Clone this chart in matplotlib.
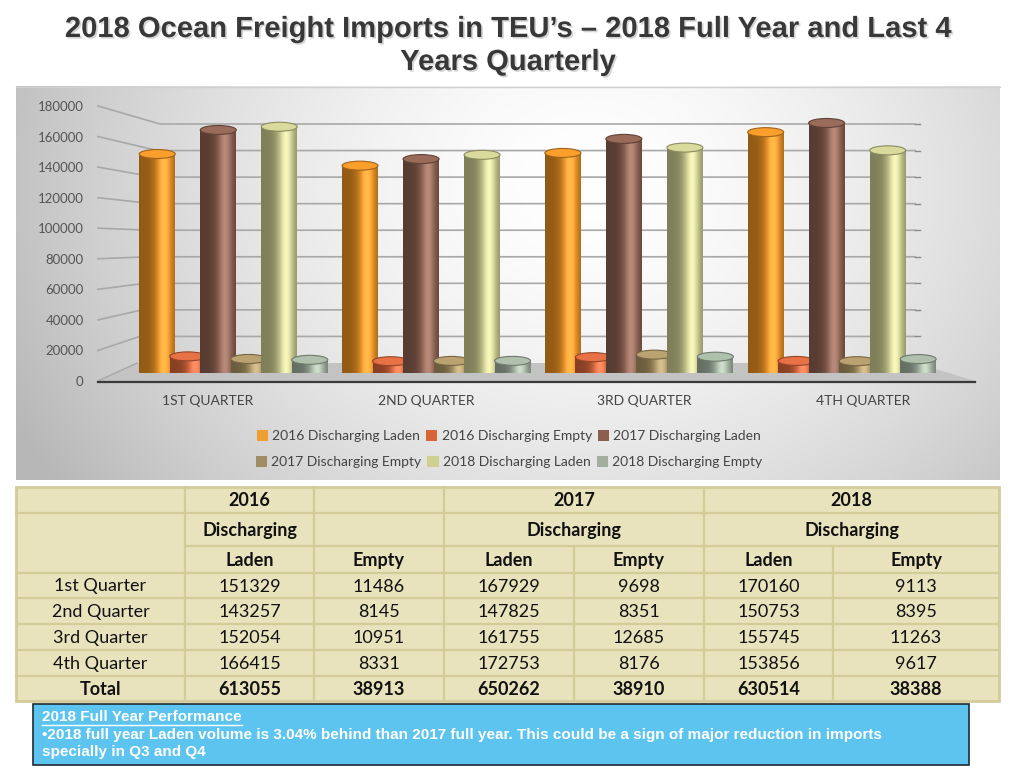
import numpy as np
import matplotlib
matplotlib.use("Agg")
import matplotlib.pyplot as plt
import matplotlib.patheffects as pe
from matplotlib.patches import Rectangle, Ellipse, Polygon, Patch

# ---- data ----
quarters = ["1ST QUARTER", "2ND QUARTER", "3RD QUARTER", "4TH QUARTER"]
row_labels = ["1st Quarter", "2nd Quarter", "3rd Quarter", "4th Quarter"]
series_names = ["2016 Discharging Laden", "2016 Discharging Empty",
                "2017 Discharging Laden", "2017 Discharging Empty",
                "2018 Discharging Laden", "2018 Discharging Empty"]
laden_2016 = [151329, 143257, 152054, 166415]
empty_2016 = [11486, 8145, 10951, 8331]
laden_2017 = [167929, 147825, 161755, 172753]
empty_2017 = [9698, 8351, 12685, 8176]
laden_2018 = [170160, 150753, 155745, 153856]
empty_2018 = [9113, 8395, 11263, 9617]
totals = [613055, 38913, 650262, 38910, 630514, 38388]
yticks = list(range(0, 180001, 20000))

series = [laden_2016, empty_2016, laden_2017, empty_2017, laden_2018, empty_2018]
bar_colors = ["#E58E22", "#D4643A", "#8A5E4E", "#A99263", "#C6C68C", "#9EAE9C"]
legend_colors = ["#EE9E32", "#D8643A", "#8C5E50", "#A08C64", "#CDD08E", "#A4AE9E"]

W, H = 1024, 768
fig = plt.figure(figsize=(10.24, 7.68), dpi=100)
fig.patch.set_facecolor("white")


def frame(x0, y_top, x1, y_bot):
    # pixel box (top-left origin) -> figure fraction rect
    return [x0 / W, (H - y_bot) / H, (x1 - x0) / W, (y_bot - y_top) / H]


canvas = fig.add_axes([0, 0, 1, 1], zorder=0)
canvas.set_xlim(0, W)
canvas.set_ylim(H, 0)
canvas.axis("off")

# title
title_fx = [pe.SimplePatchShadow(offset=(1.2, -1.2), shadow_rgbFace="#a0a0a0", alpha=0.45), pe.Normal()]
for txt, yy in [("2018 Ocean Freight Imports in TEU\u2019s \u2013 2018 Full Year and Last 4", 29),
                ("Years Quarterly", 62)]:
    canvas.text(508, yy, txt, ha="center", va="center", fontsize=21, fontweight="bold",
                family="Liberation Sans", color="#383838", path_effects=title_fx)

# chart panel background (soft gray gradient)
gx, gy = np.meshgrid(np.linspace(0, 1, 300), np.linspace(0, 1, 120))
r = np.sqrt(((gx - 0.58) / 0.62) ** 2 + ((gy - 0.25) / 1.3) ** 2)
val = np.clip(1.0 - 0.26 * r ** 1.6, 0.72, 1.0)
canvas.imshow(np.dstack([val, val, val]), extent=(16, 1000, 480, 86), aspect="auto",
              interpolation="bilinear", zorder=0.5)
canvas.plot([16, 1000], [86.5, 86.5], color="#d0d0d0", lw=1, zorder=0.6)

# front axis (tick labels), back wall axis and bar axis
ax_front = fig.add_axes(frame(92, 106, 98, 381), zorder=1)
ax_front.set_ylim(0, 180000)
ax_front.set_yticks(yticks)
ax_front.set_yticklabels([str(v) for v in yticks], fontsize=9.5, color="#555555", family="Lato")
ax_front.tick_params(axis="y", length=0, pad=6)
ax_front.set_xticks([])
for s in ax_front.spines.values():
    s.set_visible(False)
ax_front.patch.set_alpha(0)

ax_back = fig.add_axes(frame(137, 124, 915, 363), zorder=1)
ax_back.set_ylim(0, 180000)
ax_back.axis("off")

inv = canvas.transData.inverted()


def to_canvas(ax, x, y):
    return inv.transform(ax.transData.transform((x, y)))


# floor
floor = Polygon([(98, 381), (975, 381), (915, 363), (137, 363)], closed=True,
                facecolor="#c3c3c3", edgecolor="none", zorder=1)
canvas.add_patch(floor)
canvas.plot([98, 975], [381.5, 381.5], color="#3a3a3a", lw=1.6, zorder=1.2)

# gridlines: slant from front label to back wall, then across the wall
for v in yticks[1:]:
    _, yf = to_canvas(ax_front, 0, v)
    _, yb = to_canvas(ax_back, 0, v)
    xb = 137 + 23 * v / 180000
    canvas.plot([98, xb, 915], [yf, yb, yb], color="#a8a8a8", lw=1.2, zorder=1.1)
    canvas.plot([915, 920], [yb, yb], color="#8a8a8a", lw=1.0, zorder=1.1)
_, y0f = to_canvas(ax_front, 0, 0)
canvas.plot([98, 137], [y0f, 363], color="#a8a8a8", lw=1.0, zorder=1.1)

# bars as shaded cylinders
group_px, step_px = 202.8, 30.5
ax_bar = fig.add_axes(frame(100, 112.5, 975, 373), zorder=2)
ax_bar.axis("off")
ax_bar.patch.set_alpha(0)

bw = 36 / group_px
cap = 9 * 180000 / 260.5
t = np.linspace(0, 1, 64)
glow = np.exp(-((t - 0.7) / 0.28) ** 2)

for k, (vals, col) in enumerate(zip(series, bar_colors)):
    base = np.array(matplotlib.colors.to_rgb(col))
    shade = base[None, :] * (0.64 + 0.42 * glow[:, None]) + 0.15 * glow[:, None] ** 3
    shade = np.clip(shade, 0, 1)[None, :, :]
    for i, v in enumerate(vals):
        xc = i + (k - 2.5) * step_px / group_px
        z = 3 + k
        bottom = Ellipse((xc, 0), bw, cap, facecolor=base * 0.85, edgecolor="none", zorder=z)
        ax_bar.add_patch(bottom)
        body = Rectangle((xc - bw / 2, 0), bw, v, facecolor="none", edgecolor="none", zorder=z)
        ax_bar.add_patch(body)
        im = ax_bar.imshow(shade, extent=(xc - bw / 2, xc + bw / 2, 0, v), aspect="auto",
                           interpolation="bilinear", zorder=z + 0.1)
        im.set_clip_path(body)
        top = np.clip(base * 1.06 + 0.03, 0, 1)
        ax_bar.add_patch(Ellipse((xc, v), bw, cap, facecolor=top, edgecolor=base * 0.7,
                                 lw=0.8, zorder=z + 0.2))
ax_bar.set_xlim((100 - 233.5) / group_px, (975 - 233.5) / group_px)
ax_bar.set_ylim(0, 180000)

# quarter labels
for i, q in enumerate(quarters):
    canvas.text(208 + 218.3 * i, 401, q, ha="center", va="center", fontsize=10,
                family="Lato", color="#444444", zorder=3)

# legend, two rows
handles = [Patch(facecolor=c, edgecolor="none") for c in legend_colors]
for row, yy in [(0, 436), (1, 462)]:
    hs = handles[row * 3:row * 3 + 3]
    ls = series_names[row * 3:row * 3 + 3]
    fig.legend(hs, ls, loc="center", bbox_to_anchor=(509 / W, 1 - yy / H), ncol=3,
               frameon=False, handlelength=0.8, handleheight=0.8,
               handletextpad=0.3, columnspacing=0.45, prop={"family": "Lato", "size": 10},
               labelcolor="#444444")

# ---- table ----
xs = [16, 185, 314, 444, 574, 704, 833, 999]
ys = [487, 513, 546, 573, 598, 624, 650, 676, 701]
line_c = "#d3cb98"
canvas.add_patch(Rectangle((xs[0], ys[0]), xs[-1] - xs[0], ys[-1] - ys[0],
                           facecolor="#e8e3bd", edgecolor=line_c, lw=2, zorder=2))
# horizontal rules
for j, yy in enumerate(ys[1:-1], start=1):
    x_start = xs[1] if j == 2 else xs[0]
    canvas.plot([x_start, xs[-1]], [yy, yy], color=line_c, lw=1.6, zorder=2.1)
# vertical rules (merged header cells skip the inner year lines)
for c, xx in enumerate(xs[1:-1], start=1):
    y_start = ys[2] if c in (4, 6) else ys[0]
    canvas.plot([xx, xx], [y_start, ys[-1]], color=line_c, lw=1.6, zorder=2.1)

tfam = "Lato"


def cell(x0, x1, r0, s, bold=False):
    canvas.text((x0 + x1) / 2, (ys[r0] + ys[r0 + 1]) / 2 + 1, s, ha="center", va="center",
                fontsize=13, family=tfam, fontweight="bold" if bold else "normal",
                color="#111111", zorder=3)


cell(xs[1], xs[2], 0, "2016", True)
cell(xs[3], xs[5], 0, "2017", True)
cell(xs[5], xs[7], 0, "2018", True)
cell(xs[1], xs[2], 1, "Discharging", True)
cell(xs[3], xs[5], 1, "Discharging", True)
cell(xs[5], xs[7], 1, "Discharging", True)
for c in range(6):
    cell(xs[c + 1], xs[c + 2], 2, "Laden" if c % 2 == 0 else "Empty", True)
for q in range(4):
    cell(xs[0], xs[1], 3 + q, row_labels[q])
    for c, vals in enumerate(series):
        cell(xs[c + 1], xs[c + 2], 3 + q, str(vals[q]))
cell(xs[0], xs[1], 7, "Total", True)
for c, v in enumerate(totals):
    cell(xs[c + 1], xs[c + 2], 7, str(v), True)

# ---- note box ----
canvas.add_patch(Rectangle((33, 704), 936, 61, facecolor="#5cc4ee", edgecolor="#1f2a33",
                           lw=1.2, zorder=2))
note_kw = dict(ha="left", va="center", fontsize=11, fontweight="bold",
               family="Liberation Sans", color="white", zorder=3)
head = canvas.text(42, 717, "2018 Full Year Performance", **note_kw)
canvas.text(42, 735, "\u20222018 full year Laden volume is 3.04% behind than 2017 full year. "
            "This could be a sign of major reduction in imports", **note_kw)
canvas.text(42, 752, "specially in Q3 and Q4", **note_kw)

fig.canvas.draw()
bb = head.get_window_extent(fig.canvas.get_renderer())
(ux0, uy), (ux1, _) = inv.transform([(bb.x0, bb.y0), (bb.x1, bb.y0)])
canvas.plot([ux0, ux1], [uy + 0.5, uy + 0.5], color="white", lw=1, zorder=3)

fig.savefig("out.png", dpi=100)
